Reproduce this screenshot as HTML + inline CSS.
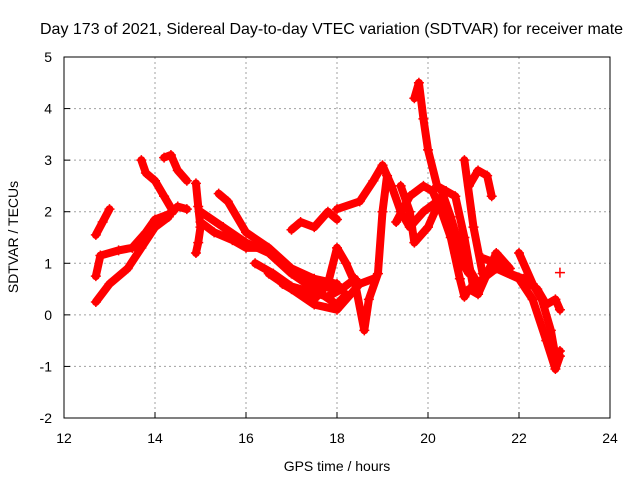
<!DOCTYPE html>
<html><head><meta charset="utf-8"><style>
body{margin:0;background:#fff}
svg{display:block;font-family:"Liberation Sans",sans-serif;font-size:14px}
</style></head><body>
<svg id="c" width="640" height="480">
<rect width="640" height="480" fill="#fff"/>
<text x="40" y="34" style="font-size:16px">Day 173 of 2021, Sidereal Day-to-day VTEC variation (SDTVAR) for receiver mate</text>
<g id="grid"></g>
<g id="ticks"></g>
<g id="data"></g>
<rect x="64" y="57" width="546" height="361" fill="none" stroke="#000"/>
<text x="337" y="471" text-anchor="middle">GPS time / hours</text>
<text transform="translate(18,237) rotate(-90)" text-anchor="middle">SDTVAR / TECUs</text>
</svg>
<script>
const xTicks=[12,14,16,18,20,22,24];
const yTicks=[-2,-1,0,1,2,3,4,5];
const trackTimes=[
[12.7,12.85,13.0],
[12.7,12.8,13.2,13.5,13.8,14.0,14.3,14.5,14.7],
[12.7,13.0,13.4,13.7,14.0,14.3],
[13.7,13.8,14.0,14.2,14.4],
[14.2,14.35,14.5,14.7],
[14.9,14.95,15.0,14.95,14.9],
[15.0,15.5,16.0,16.5,17.0,17.5,18.0,18.2],
[15.4,15.6,16.0,16.5,17.0,17.5,18.0],
[17.0,17.2,17.5,17.8,18.0],
[18.0,18.5,18.8,19.0,19.2,19.4,19.6,19.9,20.2],
[16.8,17.2,17.5,17.8,18.0,18.2,18.4,18.6,18.7,18.9,19.0,19.1],
[16.5,17.0,17.5,18.0,18.3,18.5,18.8],
[19.7,19.8,19.9,20.0,20.2,20.4,20.6,20.8,21.0,21.2,21.5,22.0,22.3,22.6,22.8,22.9],
[19.3,19.6,19.9,20.1,20.3,20.5,20.7,20.8,20.9,21.1,21.3,21.5,21.8],
[19.4,19.6,19.7,20.0,20.3,20.6,20.9],
[20.9,21.1,21.3,21.4],
[20.8,21.0,21.2],
[22.0,22.3,22.5,22.7,22.8,22.9],
[22.6,22.8,22.9],
[22.9],
[15.0,15.3,15.7,16.0,16.4,16.8,17.2,17.6,17.9],
[16.2,16.6,17.0,17.4,17.8,18.1,18.4],
[21.2,21.5,21.8,22.1,22.4,22.6],
[20.3,20.5,20.7,20.9,21.1]
];
const trackValues=[
[1.55,1.8,2.05],
[0.75,1.15,1.25,1.3,1.6,1.85,1.95,2.1,2.05],
[0.25,0.6,0.9,1.3,1.7,1.9],
[3.0,2.75,2.6,2.3,2.0],
[3.05,3.1,2.8,2.6],
[2.55,2.1,1.7,1.4,1.2],
[2.0,1.7,1.4,1.2,0.8,0.5,0.2,0.4],
[2.35,2.2,1.6,1.3,0.9,0.7,0.6],
[1.65,1.8,1.7,2.0,1.85],
[2.05,2.2,2.6,2.9,2.5,2.0,1.7,2.0,2.2],
[0.6,0.4,0.3,0.6,1.3,1.0,0.6,-0.3,0.3,0.8,2.0,2.7],
[0.8,0.5,0.2,0.1,0.4,0.6,0.7],
[4.2,4.5,3.8,3.2,2.5,2.4,2.3,1.5,0.5,0.7,0.9,0.7,0.3,-0.5,-1.05,-0.8],
[1.8,2.3,2.5,2.4,2.0,1.5,0.7,0.35,0.5,0.4,0.8,1.2,0.9],
[2.5,2.0,1.4,1.7,2.3,1.2,0.8],
[2.5,2.8,2.7,2.3],
[3.0,1.7,0.8],
[1.2,0.6,0.3,-0.3,-0.8,-0.7],
[0.2,0.3,0.1],
[0.82],
[1.8,1.6,1.45,1.3,1.3,1.0,0.7,0.6,0.5],
[1.0,0.8,0.55,0.45,0.35,0.5,0.7],
[1.1,1.0,0.8,0.7,0.5,0.2],
[2.4,1.9,1.3,0.9,0.6]
];
const X=t=>64+(t-12)*546/12;
const Y=v=>418-(v+2)*361/7;
const NS='http://www.w3.org/2000/svg';
const mk=(tag,attrs,parent)=>{const e=document.createElementNS(NS,tag);for(const k in attrs)e.setAttribute(k,attrs[k]);parent.appendChild(e);return e;};
const grid=document.getElementById('grid'),ticks=document.getElementById('ticks'),data=document.getElementById('data');
xTicks.forEach(t=>{
  if(t>12&&t<24){const g=mk('line',{x1:X(t),x2:X(t),y1:57,y2:418,stroke:'#a0a0a0','stroke-dasharray':'2,3'},grid);
  
  }
  const tk=mk('line',{x1:X(t),x2:X(t),y1:418,y2:412,stroke:'#000'},ticks);
  
  
  const l=mk('text',{x:X(t),y:443,'text-anchor':'middle'},ticks);l.textContent=t;
  
  
});
yTicks.forEach(v=>{
  if(v>-2&&v<5){const g=mk('line',{x1:64,x2:610,y1:Y(v),y2:Y(v),stroke:'#a0a0a0','stroke-dasharray':'2,3'},grid);
  
  }
  const tk=mk('line',{x1:64,x2:70,y1:Y(v),y2:Y(v),stroke:'#000'},ticks);
  
  
  const l=mk('text',{x:52,y:Y(v)+5,'text-anchor':'end'},ticks);l.textContent=v;
  
  
});
trackTimes.forEach((ts,i)=>{
  const vs=trackValues[i];
  const pts=ts.map((t,j)=>X(t)+','+Y(vs[j])).join(' ');
  if(ts.length>1){const p=mk('polyline',{points:pts,fill:'none',stroke:'#f00','stroke-width':8,'stroke-linejoin':'round','stroke-linecap':'round'},data);
  
  }
  ts.forEach((t,j)=>{
    const x=X(t),y=Y(vs[j]);
    const m=mk('path',{d:`M${x-5},${y}h10M${x},${y-5}v10`,stroke:'#f00','stroke-width':1.5},data);
    
    
  });
});
</script>
</body></html>
